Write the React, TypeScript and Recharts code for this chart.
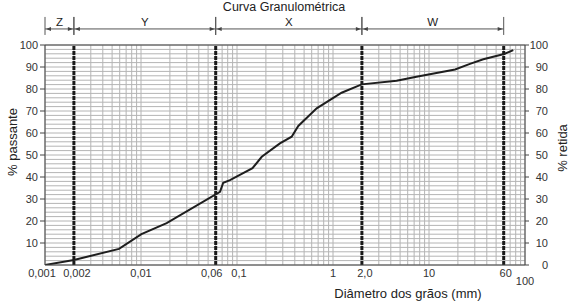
import { LineChart, Line, XAxis, YAxis, CartesianGrid, ReferenceLine } from "recharts";

// curve: grain diameter (mm) vs % passing
const diameters = [
  0.001, 0.002, 0.0059, 0.0101, 0.0185, 0.0665, 0.0719, 0.0845, 0.145, 0.181, 0.28, 0.371,
  0.435, 0.676, 1.23, 1.99, 4.6, 7.4, 18.7, 26.7, 36.8, 60.6, 75.5,
];
const passing = [
  0, 2.3, 7.3, 14, 19, 33.3, 37.4, 38.6, 44, 49.2, 55.3, 58.3, 63.2, 71.2, 78.3, 82.1, 83.8,
  85.6, 88.9, 91.4, 93.5, 95.9, 97.7,
];

const xTicks = [0.001, 0.002, 0.01, 0.06, 0.1, 1, 2, 10, 60, 100];
const xTickLabels = ["0,001", "0,002", "0,01", "0,06", "0,1", "1", "2,0", "10", "60", "100"];
// small nudges so crowded labels sit like in the picture
const xTickShift = [-3, 3, 0, -4, 2, 0, 3, 0, 2, 0];
const leftTicks = [10, 20, 30, 40, 50, 60, 70, 80, 90, 100];
const rightTicks = [0, 10, 20, 30, 40, 50, 60, 70, 80, 90, 100];

// zone limits and names
const zoneLimits = [0.001, 0.002, 0.06, 2, 60];
const zoneNames = ["Z", "Y", "X", "W"];

// log grid: 1..9 in each decade
const decades = [0.001, 0.01, 0.1, 1, 10];
const gridX: number[] = [];
decades.forEach((d) => {
  for (let k = 1; k <= 9; k++) gridX.push(+(d * k).toPrecision(3));
});
gridX.push(100);
const gridY: number[] = [];
for (let v = 0; v <= 100; v += 2) gridY.push(v);

const data = diameters.map((d, i) => ({ d, p: passing[i], r: 100 - passing[i] }));

const font = "'Liberation Sans', Arial, sans-serif";
const BRACKET_Y = 107.3;

const Bracket = ({ x1, y1, x2, text }: any) => {
  const a = 5;
  return (
    <g>
      <line x1={x1} y1={y1} x2={x2} y2={y1} stroke="#555" strokeWidth={1} />
      <line x1={x1} y1={y1 - 12} x2={x1} y2={y1 + 6} stroke="#555" strokeWidth={1} />
      <line x1={x2} y1={y1 - 12} x2={x2} y2={y1 + 6} stroke="#555" strokeWidth={1} />
      <polygon points={`${x1 + 1},${y1} ${x1 + 1 + a},${y1 - 2} ${x1 + 1 + a},${y1 + 2}`} fill="#444" />
      <polygon points={`${x2 - 1},${y1} ${x2 - 1 - a},${y1 - 2} ${x2 - 1 - a},${y1 + 2}`} fill="#444" />
      <text x={(x1 + x2) / 2} y={y1 - 3} textAnchor="middle" fontSize={11.5} fill="#222" fontFamily={font}>
        {text}
      </text>
    </g>
  );
};

const XTick = ({ x, y, payload }: any) => {
  const i = xTicks.indexOf(payload.value);
  const label = xTickLabels[i] ?? "";
  const extra = payload.value === 100 ? 8 : 0;
  return (
    <text x={x + (xTickShift[i] ?? 0)} y={y + extra} dy="0.71em" textAnchor="middle" fontSize={11} fill="#333" fontFamily={font}>
      {label}
    </text>
  );
};

const RightTick = ({ x, y, payload }: any) => (
  <text x={x + 17} y={y} dy="0.355em" textAnchor="end" fontSize={11} fill="#333" fontFamily={font}>
    {payload.value}
  </text>
);

export default function App() {
  return (
    <div style={{ position: "absolute", left: 0, top: 0, width: 571, height: 305, background: "#fff", fontFamily: font }}>
      <div
        style={{
          position: "absolute",
          left: 284,
          top: 0,
          transform: "translateX(-50%)",
          fontSize: 12.5,
          lineHeight: "15px",
          color: "#222",
          whiteSpace: "nowrap",
        }}
      >
        Curva Granulométrica
      </div>
      <LineChart
        width={571}
        height={305}
        data={data}
        margin={{ top: 45, right: 0, bottom: 0, left: 0 }}
      >
        <CartesianGrid
          yAxisId="left"
          stroke="#b4b4b4"
          strokeWidth={1}
          verticalValues={gridX}
          horizontalValues={gridY}
        />
        <XAxis
          dataKey="d"
          type="number"
          scale="log"
          domain={[0.001, 100]}
          allowDataOverflow
          ticks={xTicks}
          tick={<XTick />}
          tickLine={false}
          tickSize={0}
          tickMargin={4}
          height={40}
          stroke="#444"
          interval={0}
        />
        <YAxis
          yAxisId="left"
          domain={[0, 100]}
          allowDataOverflow
          ticks={leftTicks}
          width={45}
          tickSize={5}
          tickMargin={2}
          stroke="#444"
          tick={{ fontSize: 11, fill: "#333", fontFamily: font }}
          interval={0}
        />
        <YAxis
          yAxisId="right"
          orientation="right"
          domain={[0, 100]}
          allowDataOverflow
          ticks={rightTicks}
          width={46}
          tickSize={4}
          stroke="#444"
          tick={<RightTick />}
          interval={0}
        />
        <ReferenceLine yAxisId="left" y={100} stroke="#444" strokeWidth={1} />
        {zoneLimits.slice(1).map((v) => (
          <ReferenceLine
            key={v}
            yAxisId="left"
            x={v}
            stroke="#1a1a1a"
            strokeWidth={3}
            strokeDasharray="4 1"
          />
        ))}
        {zoneNames.map((name, i) => (
          <ReferenceLine
            key={name}
            yAxisId="left"
            ifOverflow="visible"
            segment={[
              { x: zoneLimits[i], y: BRACKET_Y },
              { x: zoneLimits[i + 1], y: BRACKET_Y },
            ]}
            shape={(p: any) => <Bracket {...p} text={name} />}
          />
        ))}
        {/* retained % on the right axis, mirrors the curve, kept invisible */}
        <Line
          yAxisId="right"
          dataKey="r"
          stroke="none"
          dot={false}
          activeDot={false}
          isAnimationActive={false}
        />
        <Line
          yAxisId="left"
          dataKey="p"
          type="linear"
          stroke="#1e1e1e"
          strokeWidth={2}
          dot={false}
          isAnimationActive={false}
        />
      </LineChart>
      <div
        style={{
          position: "absolute",
          left: 12,
          top: 142,
          transform: "translate(-50%, -50%) rotate(-90deg)",
          fontSize: 13,
          color: "#222",
          whiteSpace: "nowrap",
        }}
      >
        % passante
      </div>
      <div
        style={{
          position: "absolute",
          left: 562,
          top: 148,
          transform: "translate(-50%, -50%) rotate(-90deg)",
          fontSize: 13,
          color: "#222",
          whiteSpace: "nowrap",
        }}
      >
        % retida
      </div>
      <div
        style={{
          position: "absolute",
          left: 408,
          top: 293,
          transform: "translate(-50%, -50%)",
          fontSize: 13,
          color: "#222",
          whiteSpace: "nowrap",
        }}
      >
        Diâmetro dos grãos (mm)
      </div>
    </div>
  );
}
